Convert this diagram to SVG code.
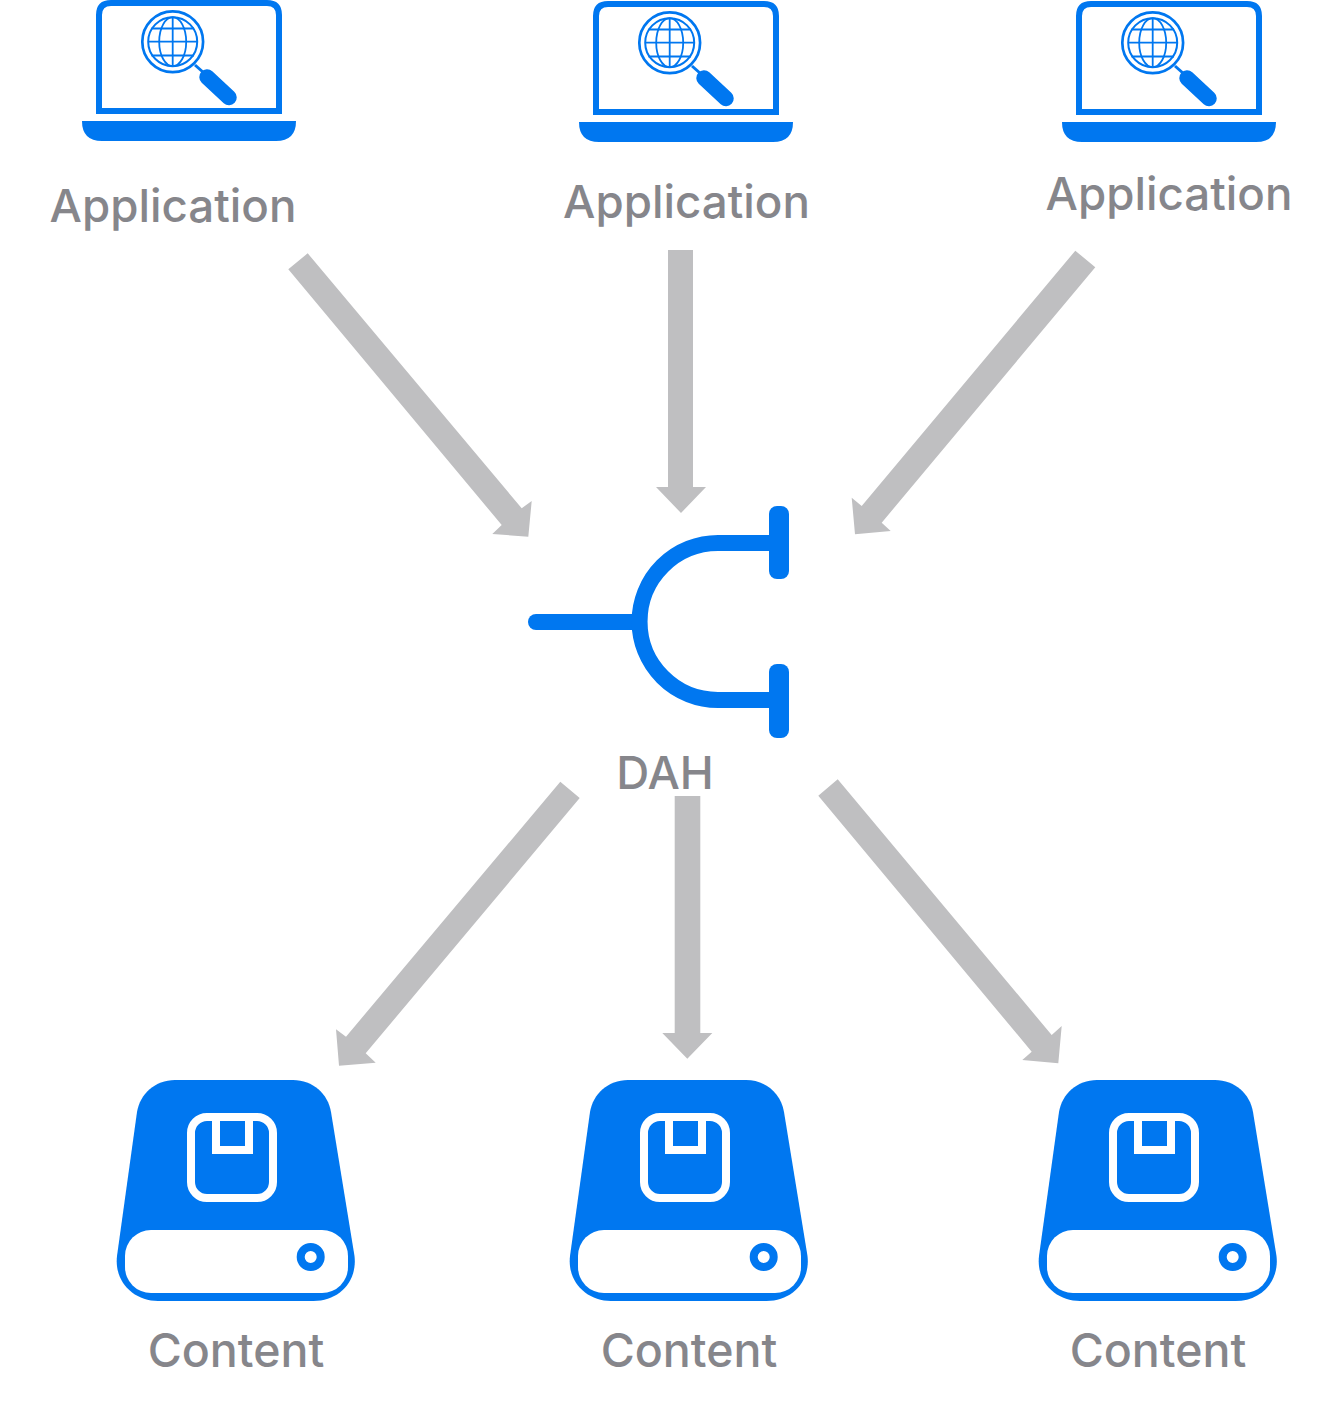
<svg xmlns="http://www.w3.org/2000/svg" xmlns:xlink="http://www.w3.org/1999/xlink" width="1343" height="1406" viewBox="0 0 1343 1406">
<style>
.lbl{font-family:Inter,"Liberation Sans",sans-serif;font-size:45.700px;font-weight:500;fill:#86868b;text-anchor:middle}
.big{font-size:46.500px}
.arrow{fill:#bfbfc1}
.bl{fill:none;stroke:#0077f0}
.wh{fill:none;stroke:#fff}
</style>
<defs>
<g id="laptop">
<path class="bl" stroke-width="6" d="M99 111V15Q99 3 111 3H267Q279 3 279 15V111Z"/>
<path fill="#0077f0" d="M82 121H296Q296 141 276 141H102Q82 141 82 121Z"/>
<circle class="bl" stroke-width="2.700" cx="172.700" cy="41.700" r="30.400"/>
<circle class="bl" stroke-width="2" cx="172.700" cy="41.700" r="24.500"/>
<ellipse class="bl" stroke-width="1.800" cx="172.700" cy="41.700" rx="13.500" ry="24.500"/>
<path class="bl" stroke-width="1.800" d="M172.700 17.200V66.200M148.200 41.700H197.200M151.500 28.500H194M151.500 55.500H194"/>
<path class="bl" stroke-width="3" d="M195 65L204 73"/>
<path class="bl" stroke-width="15.500" stroke-linecap="round" d="M207 77L229 97.500"/>
</g>
<g id="drive">
<path fill="#0077f0" d="M175 1080H293C313 1080 328 1094 331 1112L354.500 1256C357.500 1282 338.500 1301 313.500 1301H158C134 1301 114 1282 117 1256L137 1112C140 1094 155 1080 175 1080Z"/>
<rect x="125" y="1230" width="223" height="63" rx="26" fill="#fff"/>
<circle class="bl" stroke-width="8" cx="310.700" cy="1257" r="10"/>
<rect class="wh" stroke-width="8" x="191" y="1117" width="82" height="81" rx="16"/>
<path class="wh" stroke-width="8" d="M216 1117V1150H249V1117"/>
</g>
</defs>
<g id="connectors">
<polygon class="arrow" points="288.3,269.3 307.7,253.3 521.7,508.3 531.7,501 528.3,536.7 492.3,534 501.7,525"/>
<polygon class="arrow" points="668,250 693,250 693,487 706,487 681,513 656,487 668,487"/>
<polygon class="arrow" points="1075.3,250.7 1095.3,267.3 881.7,522.7 890.7,531 855,534.3 851.7,497.7 861.7,506"/>
<polygon class="arrow" points="560.3,781.7 579.7,798 365.7,1053.3 375.7,1062.7 339,1065.7 336,1029.3 346,1036.7"/>
<polygon class="arrow" points="674.7,796 700.3,796 700.3,1033 712.3,1033 687.3,1058.8 662.3,1033 674.7,1033"/>
<polygon class="arrow" points="818.3,795.7 837.7,779.3 1051.7,1035 1061.7,1026 1058.3,1063.3 1022.3,1060 1031.7,1051.7"/>
</g>
<g id="app1"><use href="#laptop"/><text class="lbl" x="173" y="222">Application</text></g>
<g id="app2"><use href="#laptop" transform="translate(497 1)"/><text class="lbl" x="686.500" y="218">Application</text></g>
<g id="app3"><use href="#laptop" transform="translate(980 1)"/><text class="lbl" x="1169" y="210">Application</text></g>
<g id="dah">
<path class="bl" stroke-width="16" stroke-linecap="round" d="M536 622H634"/>
<path class="bl" stroke-width="16" d="M780 543H718A78.500 78.500 0 0 0 718 700H780"/>
<rect x="769" y="506" width="20" height="73" rx="8" fill="#0077f0"/>
<rect x="769" y="664" width="20" height="74" rx="8" fill="#0077f0"/>
<text class="lbl" x="665" y="789">DAH</text>
</g>
<g id="content1"><use href="#drive"/><text class="lbl big" x="236" y="1367">Content</text></g>
<g id="content2"><use href="#drive" transform="translate(453 0)"/><text class="lbl big" x="689" y="1367">Content</text></g>
<g id="content3"><use href="#drive" transform="translate(922 0)"/><text class="lbl big" x="1158" y="1367">Content</text></g>
</svg>
